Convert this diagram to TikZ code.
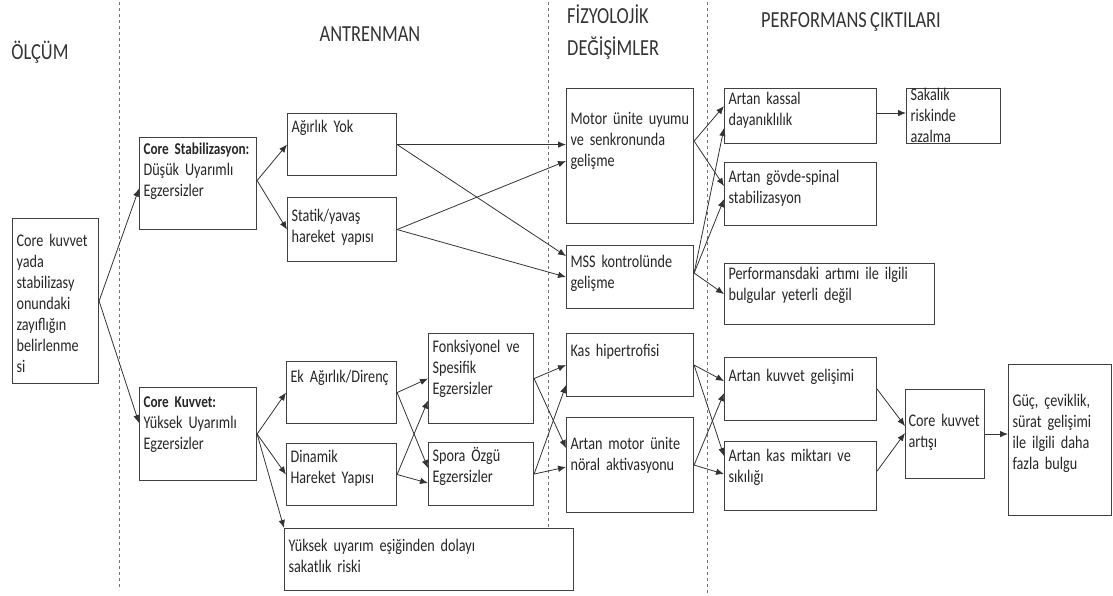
\documentclass[tikz,border=0pt]{standalone}
\usepackage{fontspec}
\setmainfont{Carlito}[FakeStretch=0.8, WordSpace=0.8]
\usetikzlibrary{arrows.meta}

\newcommand{\bhead}[1]{{\fontsize{16.5}{21}\selectfont\bfseries #1}}

\begin{document}
\begin{tikzpicture}[x=1pt, y=-1pt]

    \useasboundingbox (0,0) rectangle (1113,595);

    \begin{scope}[dashed, draw=black!55, line width=0.7pt] %columns
        \draw (119,2) -- (119,590);
        \draw (548,2) -- (548,527);
        \draw (707,2) -- (707,595);
    \end{scope}

    \begin{scope}[every node/.style={text=black!80, font=\fontsize{23}{32}\selectfont, inner sep=0pt}] %headers
        \node (olcum) at (40,52) {ÖLÇÜM};
        \node (antrenman) at (370,34) {ANTRENMAN};
        \node (fizyolojik) [anchor=north west, align=left] at (567,5) {FİZYOLOJİK\\ DEĞİŞİMLER};
        \node (performans) at (851,22) {PERFORMANS ÇIKTILARI};
    \end{scope}

    \begin{scope}[every node/.style={draw=black!75, line width=1.1pt, anchor=north west, align=left,
                  inner xsep=4pt, inner ysep=4pt, text=black!85, font=\fontsize{17.75}{21}\selectfont}]
        % olcum
        \node (belirle) [text width=78pt, text height=23.5pt, text depth=133.5pt] at (12,218)
            {Core kuvvet\\ yada\\ stabilizasy\\ onundaki\\ zayıflığın\\ belirlenme\\ si};
        % antrenman
        \node (corestab) [text width=109pt, text height=12.5pt, text depth=71.5pt] at (139,137)
            {\bhead{Core Stabilizasyon:}\\ Düşük Uyarımlı\\ Egzersizler};
        \node (corekuv) [text width=109pt, text height=15.5pt, text depth=69.5pt] at (139,387)
            {\bhead{Core Kuvvet:}\\ Yüksek Uyarımlı\\ Egzersizler};
        \node (agirlik) [text width=101pt, text height=14.5pt, text depth=39.5pt] at (287,113) {Ağırlık Yok};
        \node (statik) [text width=101pt, text height=19.5pt, text depth=36.5pt] at (287,197) {Statik/yavaş\\ hareket yapısı};
        \node (ek) [text width=102pt, text height=16.5pt, text depth=37.5pt] at (286,361) {Ek Ağırlık/Direnç};
        \node (dinamik) [text width=102pt, text height=14.5pt, text depth=39.5pt] at (286,443) {Dinamik\\ Hareket Yapısı};
        \node (fonk) [text width=97pt, text height=14.5pt, text depth=67.5pt] at (428,333) {Fonksiyonel ve\\ Spesifik\\ Egzersizler};
        \node (spora) [text width=97pt, text height=14.5pt, text depth=40.5pt] at (428,442) {Spora Özgü\\ Egzersizler};
        \node (yuksek) [text width=281pt, text height=18.5pt, text depth=35.5pt] at (284,528)
            {Yüksek uyarım eşiğinden dolayı\\ sakatlık riski};
        % fizyolojik degisimler
        \node (motor) [text width=119pt, text height=31.5pt, text depth=95.5pt] at (566,88) {Motor ünite uyumu\\ ve senkronunda\\ gelişme};
        \node (mss) [text width=119pt, text height=17.5pt, text depth=37.5pt] at (566,245) {MSS kontrolünde\\ gelişme};
        \node (kaship) [text width=119pt, text height=18.5pt, text depth=36.5pt] at (566,333) {Kas hipertrofisi};
        \node (noral) [text width=119pt, text height=27.5pt, text depth=59.5pt] at (566,417) {Artan motor ünite\\ nöral aktivasyonu};
        % performans ciktilari
        \node (kassal) [text width=144pt, text height=11.5pt, text depth=35.5pt] at (724,88) {Artan kassal\\ dayanıklılık};
        \node (sakatlik) [text width=86pt, text height=8pt, text depth=39pt] at (906,88) {Sakalık\\ riskinde\\ azalma};
        \node (govde) [text width=144pt, text height=15.5pt, text depth=39.5pt] at (724,162) {Artan gövde-spinal\\ stabilizasyon};
        \node (perf) [text width=202pt, text height=11.5pt, text depth=41.5pt] at (724,263)
            {Performansdaki artımı ile ilgili\\ bulgular yeterli değil};
        \node (kuvvet) [text width=144pt, text height=19.5pt, text depth=35.5pt] at (724,357) {Artan kuvvet gelişimi};
        \node (miktar) [text width=144pt, text height=15.5pt, text depth=45.5pt] at (724,441) {Artan kas miktarı ve\\ sıkılığı};
        \node (artis) [text width=73pt, text height=32.5pt, text depth=48.5pt, inner xsep=3pt] at (905,389) {Core kuvvet\\ artışı};
        \node (guc) [text width=95pt, text height=37.5pt, text depth=105.5pt] at (1008,364)
            {Güç, çeviklik,\\ sürat gelişimi\\ ile ilgili daha\\ fazla bulgu};
    \end{scope}

    \begin{scope}[every edge/.style={draw=black!80, line width=0.8pt}, >={Latex[length=8pt,width=6.5pt]}]
        \path [->] (belirle.east) edge ([yshift=-5]corestab.west);
        \path [->] (belirle.east) edge ([yshift=11]corekuv.west);

        \path [->] ([yshift=3]corestab.east) edge (agirlik.west);
        \path [->] ([yshift=3]corestab.east) edge (statik.west);
        \path [->] (agirlik.east) edge (agirlik.east -| motor.west);
        \path [->] (agirlik.east) edge ([yshift=21]mss.west);
        \path [->] (statik.east) edge ([yshift=-5]motor.west);
        \path [->] (statik.east) edge (mss.west);

        \path [->] ([yshift=15]motor.east) edge ([yshift=10]kassal.west);
        \path [->] ([yshift=15]motor.east) edge ([yshift=8]govde.west);
        \path [->] ([yshift=4]mss.east) edge ([yshift=-12]kassal.west);
        \path [->] ([yshift=4]mss.east) edge ([yshift=-5]govde.west);
        \path [->] ([yshift=4]mss.east) edge (perf.west);
        \path [->] ([yshift=3]kassal.east) edge ([yshift=3]kassal.east -| sakatlik.west);

        \path [->] (corekuv.east) edge (ek.west);
        \path [->] (corekuv.east) edge (dinamik.west);
        \path [->] (corekuv.east) edge (yuksek.north west);
        \path [->] (ek.east) edge (fonk.west);
        \path [->] (ek.east) edge ([yshift=6]spora.west);
        \path [->] (dinamik.east) edge ([yshift=-22]fonk.west);
        \path [->] (dinamik.east) edge ([yshift=-9]spora.west);

        \path [->] (fonk.east) edge (kaship.west);
        \path [->] (fonk.east) edge ([yshift=17]noral.west);
        \path [->] (spora.east) edge ([yshift=-20]kaship.west);
        \path [->] (spora.east) edge ([yshift=-2]noral.west);
        \path [->] (kaship.east) edge ([yshift=8]kuvvet.west);
        \path [->] (kaship.east) edge ([yshift=20]miktar.west);
        \path [->] (noral.east) edge ([yshift=-4]kuvvet.west);
        \path [->] (noral.east) edge ([yshift=2]miktar.west);

        \path [->] (kuvvet.east) edge ([yshift=8]artis.west);
        \path [->] ([yshift=5]miktar.east) edge ([yshift=1]artis.west);
        \path [->] (artis.east) edge (artis.east -| guc.west);
    \end{scope}

\end{tikzpicture}
\end{document}
